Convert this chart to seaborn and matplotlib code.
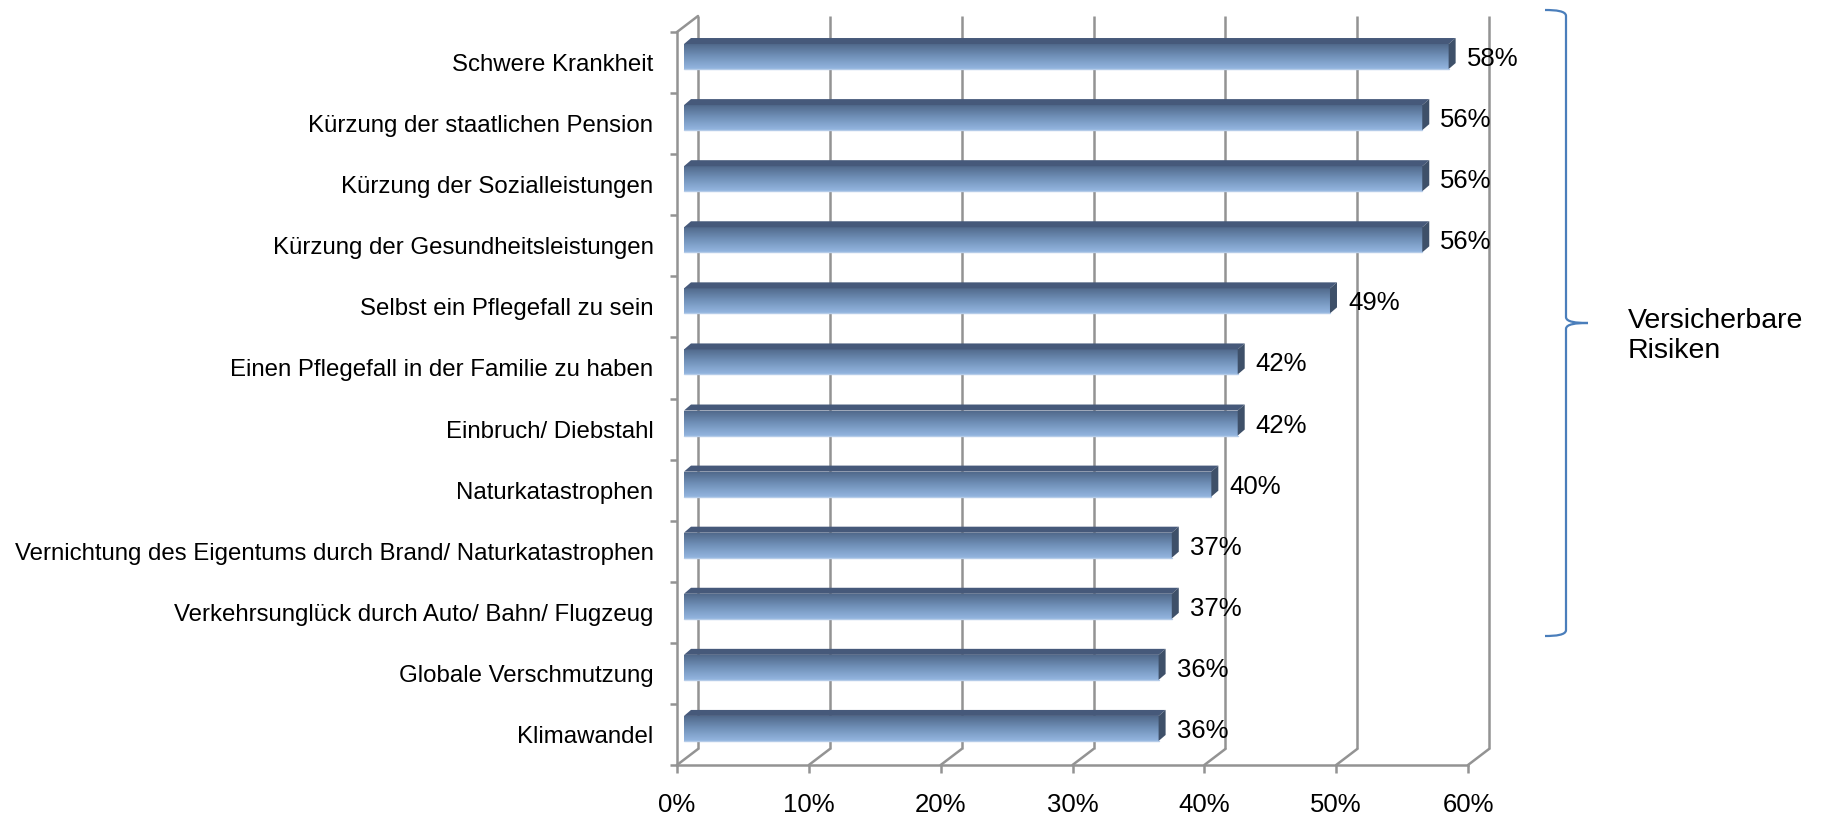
import numpy as np
import matplotlib
matplotlib.use("Agg")
import matplotlib.pyplot as plt
from matplotlib.colors import LinearSegmentedColormap
from matplotlib.patches import Polygon, PathPatch
from matplotlib.path import Path
import seaborn as sns

categories = [
    "Schwere Krankheit",
    "Kürzung der staatlichen Pension",
    "Kürzung der Sozialleistungen",
    "Kürzung der Gesundheitsleistungen",
    "Selbst ein Pflegefall zu sein",
    "Einen Pflegefall in der Familie zu haben",
    "Einbruch/ Diebstahl",
    "Naturkatastrophen",
    "Vernichtung des Eigentums durch Brand/ Naturkatastrophen",
    "Verkehrsunglück durch Auto/ Bahn/ Flugzeug",
    "Globale Verschmutzung",
    "Klimawandel",
]
values = [58, 56, 56, 56, 49, 42, 42, 40, 37, 37, 36, 36]
x_ticks = [0, 10, 20, 30, 40, 50, 60]
x_tick_labels = ["0%", "10%", "20%", "30%", "40%", "50%", "60%"]
brace_label = "Versicherbare\nRisiken"

sns.set_theme(style="white")
plt.rcParams["font.family"] = ["Liberation Sans", "DejaVu Sans"]
plt.rcParams["text.color"] = "black"
plt.rcParams["xtick.labelcolor"] = "black"
plt.rcParams["ytick.labelcolor"] = "black"

W, H = 1829, 818
fig = plt.figure(figsize=(W / 100, H / 100), dpi=100)
fig.patch.set_facecolor("white")
L, R, T, B = 677, 1468, 32, 765
ax = fig.add_axes([L / W, 1 - B / H, (R - L) / W, (B - T) / H])

gray = "#939393"
sns.barplot(x=values, y=categories, orient="h", width=0.41, color="#6a88b0",
            ax=ax, zorder=3, linewidth=0)
ax.set_xlim(0, 60)
ax.set_ylim(len(categories) - 0.5, -0.5)

px_x = (R - L) / 60.0
px_y = (B - T) / len(categories)

# 3D offsets (pixels -> data units)
bar_dx, bar_dy = 7 / px_x, 6 / px_y
dep_dx, dep_dy = 7 / px_x, 6 / px_y
back_dx, back_dy = 21 / px_x, 16 / px_y

cmap = LinearSegmentedColormap.from_list("bar", ["#4e6687", "#7090b8", "#94b6e0"])
grad = np.linspace(0, 1, 256).reshape(-1, 1)

for p in list(ax.patches):
    x0, y0, w, h = p.get_x(), p.get_y(), p.get_width(), p.get_height()
    x0n, y0n = x0 + bar_dx, y0 - bar_dy
    p.set_x(x0n)
    p.set_y(y0n)
    p.set_facecolor("none")
    x1 = x0n + w
    yt, yb = y0n, y0n + h
    im = ax.imshow(grad, extent=(x0n, x1, yb, yt), origin="upper", aspect="auto",
                   cmap=cmap, zorder=3, interpolation="bilinear")
    im.set_clip_path(p)
    top = Polygon([(x0n, yt), (x1, yt), (x1 + dep_dx, yt - dep_dy), (x0n + dep_dx, yt - dep_dy)],
                  closed=True, facecolor="#46597a", edgecolor="none", zorder=3)
    side = Polygon([(x1, yt), (x1 + dep_dx, yt - dep_dy), (x1 + dep_dx, yb - dep_dy), (x1, yb)],
                   closed=True, facecolor="#3e5069", edgecolor="none", zorder=3)
    ax.add_patch(top)
    ax.add_patch(side)
    ax.plot([x0n, x1], [yb, yb], color="#b4cbe8", lw=1.0, zorder=3.5)

ax.set_xlim(0, 60)
ax.set_ylim(len(categories) - 0.5, -0.5)

# back wall gridlines and floor diagonals
ylo, yhi = -0.5, len(categories) - 0.5
for t in x_ticks:
    ax.plot([t + back_dx, t + back_dx], [ylo - back_dy, yhi - back_dy], color=gray,
            lw=1.8, zorder=1, clip_on=False, solid_capstyle="butt")
    ax.plot([t, t + back_dx], [yhi, yhi - back_dy], color=gray, lw=1.8, zorder=1, clip_on=False)
ax.plot([0, back_dx], [ylo, ylo - back_dy], color=gray, lw=1.8, zorder=1, clip_on=False)

# value labels
for i, v in enumerate(values):
    ax.annotate(f"{v}%", xy=(v, i), xytext=(18, 2.5), textcoords="offset points",
                ha="left", va="center", fontsize=18.5, color="black", zorder=5)

# axes styling
for s in ["top", "right"]:
    ax.spines[s].set_visible(False)
for s in ["left", "bottom"]:
    ax.spines[s].set_color(gray)
    ax.spines[s].set_linewidth(1.8)
ax.set_xticks(x_ticks)
ax.set_xticklabels(x_tick_labels, fontsize=18.5, color="black")
ax.tick_params(axis="x", length=6, width=1.8, color=gray, pad=14, bottom=True,
               labelcolor="black")
ax.tick_params(axis="y", which="major", length=0, pad=17, labelsize=17.25, labelcolor="black")
ax.set_yticks(np.arange(-0.5, len(categories), 1.0), minor=True)
ax.tick_params(axis="y", which="minor", length=5, width=1.8, color=gray, left=True)
ax.set_xlabel("")
ax.set_ylabel("")
ax.grid(False)

# brace
def fx(px):
    return px / W

def fy(py):
    return 1 - py / H

bx, tipx, hx = 1566, 1588, 1545
ytop, ymid, ybot = 10, 323, 636
verts = [
    (hx, ytop), (1556, ytop), (bx, ytop + 1), (bx, ytop + 6),
    (bx, ymid - 6), (bx, ymid - 1), (1576, ymid), (tipx, ymid),
    (1576, ymid), (bx, ymid + 1), (bx, ymid + 6),
    (bx, ybot - 6), (bx, ybot - 1), (1556, ybot), (hx, ybot),
]
codes = [Path.MOVETO, Path.CURVE4, Path.CURVE4, Path.CURVE4,
         Path.LINETO, Path.CURVE4, Path.CURVE4, Path.CURVE4,
         Path.CURVE4, Path.CURVE4, Path.CURVE4,
         Path.LINETO, Path.CURVE4, Path.CURVE4, Path.CURVE4]
path = Path([(fx(a), fy(b)) for a, b in verts], codes)
fig.add_artist(PathPatch(path, transform=fig.transFigure, facecolor="none",
                         edgecolor="#4a7ebb", lw=1.6))
fig.text(fx(1628), fy(336), brace_label, ha="left", va="center", fontsize=20.5,
         linespacing=1.2, color="black")

fig.savefig("out.png", dpi=100, facecolor="white")
